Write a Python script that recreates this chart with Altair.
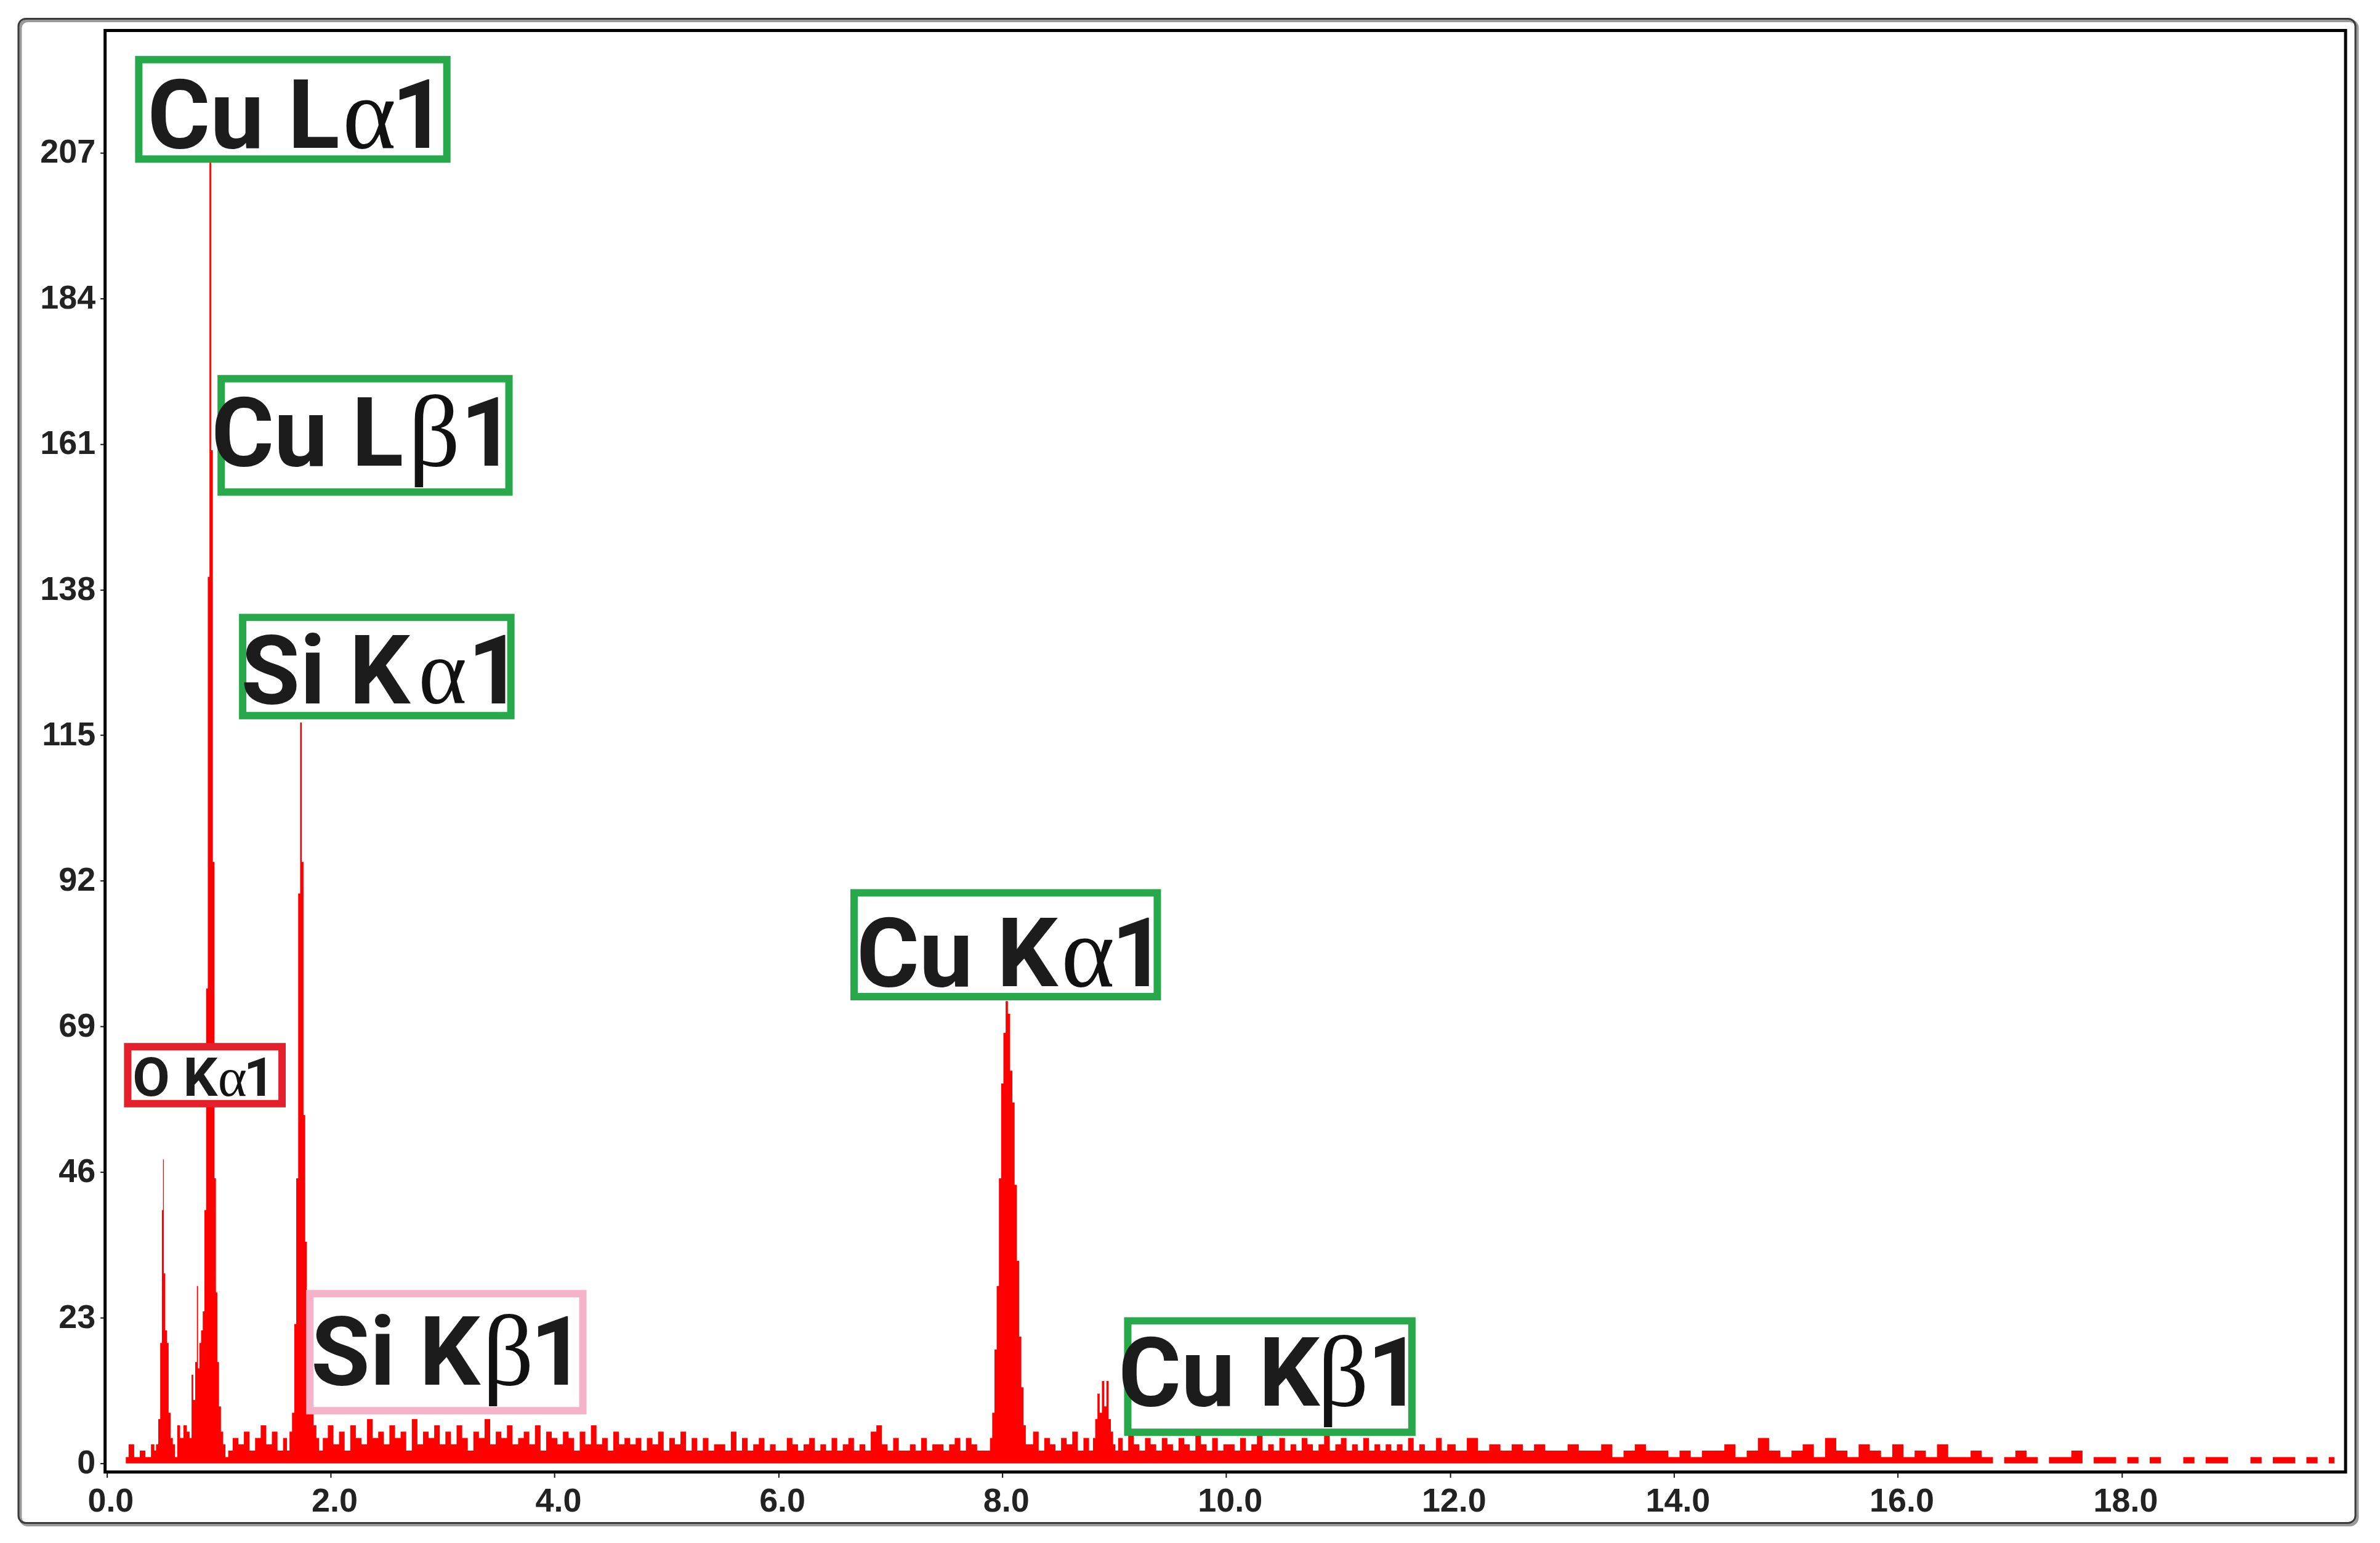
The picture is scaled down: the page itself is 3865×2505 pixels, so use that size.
import altair as alt
import pandas as pd
import numpy as np

# ---------------- spectrum data (keV, counts) ----------------
o_ka_kev = [0.43, 0.45, 0.47, 0.485, 0.50, 0.505, 0.515, 0.53, 0.545, 0.56, 0.58, 0.60, 0.62]
o_ka_cts = [2, 3, 7, 19, 40, 48, 30, 21, 19, 8, 4, 3, 1]

cu_l_kev = [0.75, 0.765, 0.78, 0.80, 0.81, 0.82, 0.835, 0.85, 0.865, 0.88, 0.895, 0.91,
            0.925, 0.94, 0.955, 0.97, 0.98, 0.995, 1.01, 1.03, 1.05, 1.07]
cu_l_cts = [4, 14, 10, 16, 28, 15, 19, 21, 24, 40, 75, 140,
            206, 160, 95, 45, 27, 16, 9, 5, 3, 1]

si_ka_kev = [1.62, 1.645, 1.665, 1.685, 1.70, 1.72, 1.735, 1.75, 1.765, 1.78, 1.795,
             1.81, 1.835, 1.86, 1.885, 1.91]
si_ka_cts = [2, 5, 8, 22, 45, 90, 117, 95, 55, 35, 15, 9, 8, 6, 4, 2]

cu_ka_kev = [7.88, 7.90, 7.92, 7.94, 7.96, 7.98, 8.00, 8.02, 8.04, 8.06, 8.08, 8.10,
             8.12, 8.14, 8.16, 8.18, 8.20, 8.22]
cu_ka_cts = [2, 4, 8, 18, 28, 45, 60, 68, 73, 71, 62, 57, 44, 32, 20, 12, 6, 3]

cu_kb_kev = [8.80, 8.82, 8.84, 8.86, 8.88, 8.90, 8.92, 8.94, 8.96, 8.98, 9.00, 9.02]
cu_kb_cts = [2, 4, 7, 11, 8, 13, 9, 13, 7, 5, 3, 2]

# background counts, one value per channel group (start keV, step keV, counts)
noise_a_start, noise_a_step = 0.17, 0.05
noise_a = [1, 3, 1, 2, 1, 3]
noise_b_start, noise_b_step = 0.64, 0.03
noise_b = [6, 4, 6, 5]
noise_c_start, noise_c_step = 1.10, 0.05
noise_c = [2, 4, 3, 5, 2, 4, 6, 3, 5, 2, 4]
noise_d_start, noise_d_step = 1.95, 0.05
noise_d = [4, 6, 3, 5, 2, 6, 4, 3, 7, 4, 5,
           3, 6, 4, 5, 2, 7, 3, 5, 4, 6, 3,
           5, 3, 6, 4, 2, 5, 4, 7, 3, 5, 4,
           6, 3, 4, 5, 3, 6, 2, 5, 4, 3, 5,
           4, 2, 5, 3, 6, 3, 4, 2, 5, 3, 4,
           3, 4, 2, 4, 3, 5, 2, 4, 3, 5, 2,
           4, 2, 4, 2, 3, 3, 2, 5, 2, 4, 2,
           3, 4, 2, 3, 2, 2, 4, 3, 2, 3, 4,
           2, 3, 2, 4, 2, 3, 4, 2, 3, 2, 5,
           6, 3, 2, 4, 2, 2, 3, 2, 4, 2, 3,
           3, 2, 3, 4, 2, 4, 3, 2]
noise_e_start, noise_e_step = 8.25, 0.05
noise_e = [3, 5, 2, 4, 3, 2, 4, 3, 5, 2, 4]
noise_f_start, noise_f_step = 9.05, 0.05
noise_f = [4, 2, 5, 3, 2, 4, 3, 2, 4, 3,
           2, 4, 3, 2, 5, 3, 2, 4, 2, 3,
           3, 2, 4, 2, 3, 5, 2, 3, 2, 4,
           2, 3, 2, 4, 3, 2, 3, 5, 2, 3,
           4, 2, 3, 2, 4, 2, 3, 2, 3, 2,
           3, 2, 4, 2, 3, 2, 2, 4, 2, 3]
noise_g_start, noise_g_step = 12.1, 0.1
noise_g = [2, 4, 2, 3, 2, 3, 2, 3, 2, 2,
           3, 2, 2, 3, 1, 2, 3, 2, 2, 1,
           2, 1, 2, 2, 3, 1, 2, 4, 2, 1,
           2, 3, 1, 4, 2, 1, 3, 2, 1, 3,
           1, 2, 1, 3, 1, 1, 2, 1, 0, 1,
           2, 1, 0, 1, 1, 2, 0, 1, 1, 0,
           1, 0, 1, 0, 0, 1, 0, 1, 1, 0,
           0, 1, 0, 1, 1, 0, 1, 0, 1]

# axis tick labels
y_ticks = [0, 23, 46, 69, 92, 115, 138, 161, 184, 207]
x_ticks = [0, 2, 4, 6, 8, 10, 12, 14, 16, 18]

# peak annotations
label_prefix = ["Cu L", "Cu L", "Si K", "O K", "Si K", "Cu K", "Cu K"]
label_greek = ["α", "β", "α", "α", "β", "α", "β"]
label_suffix = ["1", "1", "1", "1", "1", "1", "1"]
box_x1 = [0.286, 1.022, 1.214, 0.187, 1.813, 6.676, 9.121]
box_x2 = [3.038, 3.593, 3.610, 1.566, 4.253, 9.385, 11.659]
box_top = [221.7, 171.3, 133.6, 65.8, 26.8, 90.1, 22.5]
box_bottom = [206.0, 153.4, 118.1, 56.8, 8.3, 73.7, 4.9]
box_color = ["#27a84a", "#27a84a", "#27a84a", "#e3202c", "#f5b2c9", "#27a84a", "#27a84a"]
text_y = [207.8, 157.6, 120.0, 58.0, 12.4, 75.4, 9.1]
prefix_end_x = [2.080, 2.650, 2.710, 0.990, 3.335, 8.495, 10.835]
greek_x = [2.345, 2.925, 3.000, 1.121, 3.585, 8.765, 11.045]
suffix_x = [2.790, 3.405, 3.470, 1.362, 4.030, 9.220, 11.505]
sans_px = [156, 156, 156, 88, 156, 156, 156]
greek_px = [166, 166, 150, 90, 164, 166, 164]

# ---------------- build tables ----------------
parts = [pd.DataFrame({"kev": k, "cts": c}) for k, c in [
    (o_ka_kev, o_ka_cts), (cu_l_kev, cu_l_cts), (si_ka_kev, si_ka_cts),
    (cu_ka_kev, cu_ka_cts), (cu_kb_kev, cu_kb_cts)]]
for start, step, vals in [(noise_a_start, noise_a_step, noise_a),
                          (noise_b_start, noise_b_step, noise_b),
                          (noise_c_start, noise_c_step, noise_c),
                          (noise_d_start, noise_d_step, noise_d),
                          (noise_e_start, noise_e_step, noise_e),
                          (noise_f_start, noise_f_step, noise_f),
                          (noise_g_start, noise_g_step, noise_g)]:
    kev = [round(start + i * step, 4) for i in range(len(vals))]
    parts.append(pd.DataFrame({"kev": kev, "cts": vals}))
spec = pd.concat(parts).sort_values("kev").reset_index(drop=True)

boxes = pd.DataFrame({"x1": box_x1, "x2": box_x2, "top": box_top,
                      "bottom": box_bottom, "color": box_color})
prefix_txt = pd.DataFrame({"x": prefix_end_x, "y": text_y, "t": label_prefix, "fs": sans_px})
suffix_txt = pd.DataFrame({"x": suffix_x, "y": text_y, "t": label_suffix, "fs": sans_px})
greek_txt = pd.DataFrame({"x": greek_x, "y": text_y, "t": label_greek, "fs": greek_px})

X_DOM = [-0.015, 20.0]
Y_DOM = [-1.36, 226.3]
xs = alt.Scale(domain=X_DOM, nice=False, zero=False)
ys = alt.Scale(domain=Y_DOM, nice=False, zero=False)

AX_FONT = "Liberation Sans, Arial, sans-serif"
LBL_FONT = "Roboto, Liberation Sans, sans-serif"

x_axis = alt.Axis(values=x_ticks, format=".1f", title=None, grid=False, domain=False,
                  ticks=True, tickSize=9, tickWidth=2, tickColor="#111",
                  labelFont=AX_FONT, labelFontWeight="bold", labelFontSize=54,
                  labelColor="#222", labelPadding=12, labelOffset=6)
y_axis = alt.Axis(values=y_ticks, title=None, grid=False, domain=False,
                  ticks=True, tickSize=8, tickWidth=2, tickColor="#111",
                  labelFont=AX_FONT, labelFontWeight="bold", labelFontSize=54,
                  labelColor="#222", labelPadding=8)

one = pd.DataFrame({"a": [0]})
frame_shadow = alt.Chart(one).mark_rect(filled=False, stroke="#9a9a9a", strokeWidth=5,
                                        cornerRadius=12).encode(
    x=alt.value(-138), x2=alt.value(3665), y=alt.value(-16), y2=alt.value(2431))
frame = alt.Chart(one).mark_rect(filled=False, stroke="#3a3a3a", strokeWidth=3,
                                 cornerRadius=12).encode(
    x=alt.value(-141), x2=alt.value(3662), y=alt.value(-19), y2=alt.value(2428))

area = alt.Chart(spec).mark_area(color="#ff0000", interpolate="step").encode(
    x=alt.X("kev:Q", scale=xs, axis=x_axis),
    y=alt.Y("cts:Q", scale=ys, axis=y_axis),
)

rects = alt.Chart(boxes).mark_rect(fill="white", strokeWidth=12).encode(
    x=alt.X("x1:Q", scale=xs), x2="x2:Q",
    y=alt.Y("bottom:Q", scale=ys), y2="top:Q",
    stroke=alt.Stroke("color:N", scale=None),
)

prefix = alt.Chart(prefix_txt).mark_text(
    font=LBL_FONT, fontWeight="bold", align="right", baseline="alphabetic",
    color="#1c1c1c").encode(
    x=alt.X("x:Q", scale=xs), y=alt.Y("y:Q", scale=ys), text="t:N",
    size=alt.Size("fs:Q", scale=None))

suffix = alt.Chart(suffix_txt).mark_text(
    font=LBL_FONT, fontWeight="bold", align="center", baseline="alphabetic",
    color="#1c1c1c").encode(
    x=alt.X("x:Q", scale=xs), y=alt.Y("y:Q", scale=ys), text="t:N",
    size=alt.Size("fs:Q", scale=None))

greek = alt.Chart(greek_txt).mark_text(
    font="Liberation Serif, Times New Roman, serif",
    fontWeight="normal", align="center", baseline="alphabetic", color="#111").encode(
    x=alt.X("x:Q", scale=xs), y=alt.Y("y:Q", scale=ys), text="t:N",
    size=alt.Size("fs:Q", scale=None))

chart = alt.layer(frame_shadow, frame, area, rects, prefix, greek, suffix).properties(
    width=3646, height=2345,
    autosize=alt.AutoSizeParams(type="none"),
    padding={"left": 163, "top": 39, "right": 48, "bottom": 113},
    background="white",
).configure_view(stroke="black", strokeWidth=5)

chart.save("out.html", embed_options={"renderer": "svg", "actions": False})
